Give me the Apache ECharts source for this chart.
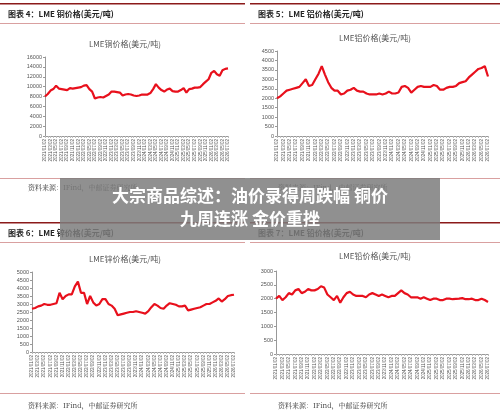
<!DOCTYPE html>
<html><head><meta charset="utf-8">
<script src="https://cdn.jsdelivr.net/npm/echarts@6/dist/echarts.min.js"></script>
<style>html,body{margin:0;padding:0;background:#fff}#c{width:500px;height:419px}</style>
</head><body><div id="c"></div>
<script>
const months = [];
for (let y = 2021; y <= 2026; y++) for (let m = 1; m <= 12; m++) { if (y === 2026 && m > 7) break; months.push(y + '/' + String(m).padStart(2,'0') + '/02'); }
const copper = [8000,8500,9200,9500,10200,9600,9500,9400,9300,9700,9600,9700,
 9800,9900,10200,10300,9500,9000,7600,7800,7900,7800,8100,8400,
 9000,9000,8900,8800,8200,8400,8500,8400,8200,8100,8200,8400,
 8400,8400,8700,9500,10500,9800,9300,9000,9400,9600,9100,9000,
 9000,9300,9700,8800,9500,9600,9800,9800,9900,10500,11000,11500,
 12800,13200,12500,12200,13300,13600,13700];
const aluminum = [2000,2100,2250,2400,2450,2500,2550,2600,2800,3000,2650,2700,
 3000,3300,3700,3250,2850,2550,2400,2400,2200,2250,2400,2450,
 2550,2400,2350,2350,2250,2200,2200,2200,2250,2200,2250,2350,
 2250,2250,2300,2600,2650,2550,2300,2450,2600,2650,2600,2600,
 2600,2700,2650,2450,2450,2550,2600,2600,2650,2800,2850,2900,
 3100,3250,3400,3550,3600,3700,3150];
const zinc = [2700,2750,2850,2900,3000,2950,2950,3000,3050,3700,3300,3500,
 3600,3600,4100,4400,3700,3700,3000,3500,3100,2900,3000,3300,
 3300,3000,2900,2700,2300,2350,2400,2450,2500,2500,2550,2500,
 2450,2400,2550,2800,3000,2900,2750,2700,2900,3050,3000,2950,
 2850,2850,2900,2600,2650,2700,2750,2800,2900,3000,3000,3100,
 3200,3350,3150,3300,3500,3550,3580];
const lead = [2000,2100,1950,2050,2200,2150,2300,2350,2200,2250,2350,2300,
 2300,2350,2450,2400,2150,2050,1950,2100,1850,2050,2200,2250,
 2150,2100,2100,2100,2050,2150,2200,2150,2100,2150,2100,2050,
 2100,2100,2200,2300,2200,2150,2050,2050,2050,2000,2050,2000,
 1950,2000,2000,1950,1950,2000,2000,1980,1990,2000,2020,1980,
 1980,2000,1950,1950,2000,1950,1880];
const seriesData = [copper, aluminum, zinc, lead];
const maxes = [16000, 4500, 5000, 3000];
const steps = [2000, 500, 500, 500];
const figTitles = ['图表 4：LME 铜价格(美元/吨)','图表 5：LME 铝价格(美元/吨)','图表 6：LME 锌价格(美元/吨)','图表 7：LME 铅价格(美元/吨)'];
const chartTitles = ['LME铜价格(美元/吨)','LME铝价格(美元/吨)','LME锌价格(美元/吨)','LME铅价格(美元/吨)'];
const source = '资料来源：IFind，中邮证券研究所';
const overlay1 = '大宗商品综述：油价录得周跌幅 铜价';
const overlay2 = '九周连涨 金价重挫';

const grids = [
 {left:45, top:57, width:183, height:79},
 {left:277, top:51, width:211, height:85},
 {left:32, top:272, width:202, height:80},
 {left:276, top:271, width:212, height:83}];
const panels = [{x:0,w:245,top:3,ct:44,cx:125},{x:250,w:250,top:3,ct:38,cx:375},{x:0,w:245,top:222,ct:259,cx:125},{x:250,w:250,top:222,ct:256,cx:375}];
const srcY = [187, 187, 405, 405];
const lineY = [178, 178, 393, 393];

const g = [];
panels.forEach((p,i)=>{
  g.push({type:'rect',shape:{x:p.x,y:p.top,width:p.w,height:1.5},style:{fill:'#8b1a1a'}});
  g.push({type:'text',x:p.x+8,y:p.top+11,style:{text:figTitles[i],font:'bold 8px "Noto Sans CJK SC"',fill:'#222',textVerticalAlign:'middle'}});
  g.push({type:'rect',shape:{x:p.x,y:p.top+20,width:p.w,height:1},style:{fill:'#d9a0a0'}});
  g.push({type:'text',x:p.cx,y:p.ct,style:{text:chartTitles[i],font:'8px "Noto Sans CJK SC"',fill:'#555',textAlign:'center',textVerticalAlign:'middle'}});
  g.push({type:'rect',shape:{x:p.x,y:lineY[i],width:p.w,height:1},style:{fill:'#d9a0a0'}});
  g.push({type:'text',x:p.x+28,y:srcY[i],style:{text:source,font:'7px "Noto Serif CJK SC","Noto Sans CJK SC"',fill:'#333',textVerticalAlign:'middle'}});
});
g.push({type:'rect',z:100,shape:{x:60,y:178,width:380,height:62},style:{fill:'rgba(125,125,125,0.85)'}});
g.push({type:'text',z:101,x:250,y:196,style:{text:overlay1,font:'bold 17px "Noto Sans CJK SC"',fill:'#fff',textAlign:'center',textVerticalAlign:'middle'}});
g.push({type:'text',z:101,x:250,y:219,style:{text:overlay2,font:'bold 17px "Noto Sans CJK SC"',fill:'#fff',textAlign:'center',textVerticalAlign:'middle'}});

const opt = {animation:false, grid:grids, xAxis:[], yAxis:[], series:[], graphic:g};
for (let i=0;i<4;i++){
  opt.xAxis.push({type:'category',gridIndex:i,data:months,boundaryGap:false,
    axisLine:{lineStyle:{color:'#999'}},axisTick:{show:true,interval:0,length:2,lineStyle:{color:'#bbb'}},
    axisLabel:{rotate:90,interval:1,fontSize:4.5,color:'#555',margin:3}});
  opt.yAxis.push({type:'value',gridIndex:i,min:0,max:maxes[i],interval:steps[i],splitLine:{show:false},
    axisLine:{show:true,lineStyle:{color:'#999'}},axisTick:{show:true,length:2},
    axisLabel:{fontSize:5.5,color:'#555',margin:3,formatter:v=>String(v)}});
  opt.series.push({type:'line',xAxisIndex:i,yAxisIndex:i,data:seriesData[i],symbol:'none',
    lineStyle:{color:'#e8101c',width:2.2}});
}
echarts.init(document.getElementById('c')).setOption(opt);
</script></body></html>
